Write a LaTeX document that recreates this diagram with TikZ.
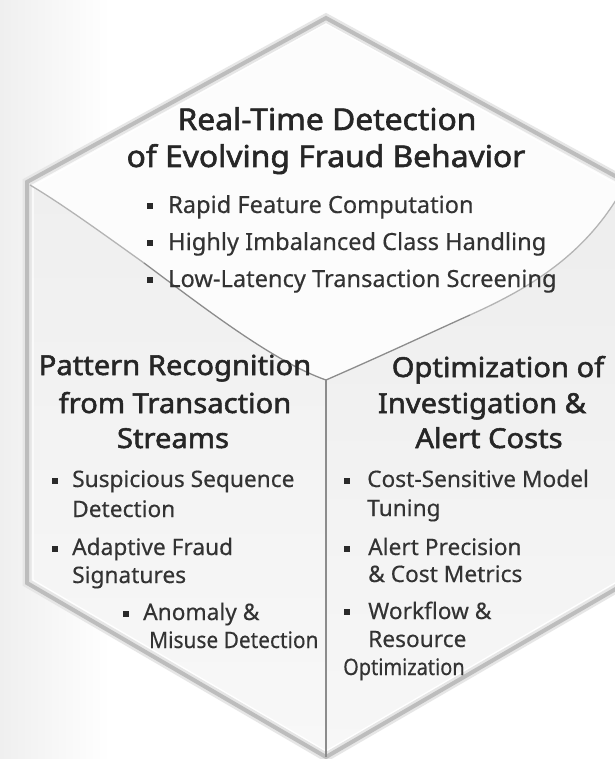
\documentclass[tikz,border=0pt]{standalone}
\usepackage{fontspec}
\usepackage{graphicx}
\setmainfont{Noto Sans}[FakeBold=0.35]
\newfontfamily\headfont{Noto Sans}[FakeBold=1.9, FakeStretch=1.06]
\definecolor{headc}{HTML}{262626}
\definecolor{txtc}{HTML}{333333}
\definecolor{bulc}{HTML}{2A2A2A}
\definecolor{edgec}{HTML}{BDBDBD}
\definecolor{shadowc}{HTML}{E6E6E6}
\definecolor{innerc}{HTML}{8C8C8C}
\definecolor{innerl}{HTML}{B4B4B4}
\definecolor{topface}{HTML}{FCFCFC}
\definecolor{lefttop}{HTML}{EFEFEF}
\definecolor{leftbot}{HTML}{F8F8F8}
\definecolor{righttop}{HTML}{EDEDED}
\definecolor{rightbot}{HTML}{F7F7F7}
\definecolor{bgl}{HTML}{EFEFEF}
\begin{document}
\begin{tikzpicture}[x=1pt,y=-1pt,
  titletext/.style={font=\headfont\fontsize{30}{34}\selectfont, text=headc, anchor=base, inner sep=0pt},
  facehead/.style={font=\headfont\fontsize{27.5}{32}\selectfont, text=headc, anchor=base, inner sep=0pt},
  topitem/.style={font=\bfseries\fontsize{23.6}{29}\selectfont, text=txtc, anchor=base west, inner sep=0pt},
  faceitem/.style={font=\bfseries\fontsize{22.7}{28}\selectfont, text=txtc, anchor=base west, inner sep=0pt},
  bul/.style={fill=bulc, draw=none, minimum size=6.5pt, inner sep=0pt, rectangle}
]
\useasboundingbox (0,0) rectangle (614,759);
\fill[white] (0,0) rectangle (614,759);
\shade[left color=bgl, right color=white] (0,0) rectangle (110,759);

% hexagon vertices
\coordinate (T) at (326,18);
\coordinate (UR) at (626,182);
\coordinate (LR) at (626,583);
\coordinate (B) at (326,757);
\coordinate (LL) at (27,583);
\coordinate (UL) at (27,182);
\coordinate (C) at (326,380);
\coordinate (Li) at (30,185);
\coordinate (Lm) at (144,263);
\coordinate (Rm) at (470,315);
\coordinate (Ri) at (622,190);

% faces
\fill[topface] (T) -- (UR) -- (Ri) .. controls (585,255) and (530,288) .. (Rm)
  .. controls (430,333) and (390,352) .. (C)
  .. controls (274.4,362) and (207,310) .. (Lm)
  .. controls (102,233) and (62,204) .. (Li) -- (UL) -- cycle;
\shade[top color=lefttop, bottom color=leftbot] (UL) -- (Li)
  .. controls (62,204) and (102,233) .. (Lm)
  .. controls (207,310) and (274.4,362) .. (C)
  -- (B) -- (LL) -- cycle;
\shade[top color=righttop, bottom color=rightbot] (C)
  .. controls (390,352) and (430,333) .. (Rm)
  .. controls (530,288) and (585,255) .. (Ri)
  -- (UR) -- (LR) -- (B) -- cycle;

% outline
\draw[shadowc, line width=9pt, line join=miter] (T) -- (UR) -- (LR) -- (B) -- (LL) -- (UL) -- cycle;
\draw[edgec, line width=4pt, line join=miter] (T) -- (UR) -- (LR) -- (B) -- (LL) -- (UL) -- cycle;
\draw[white, line width=1.2pt] (326,24) -- (620,186) -- (620,580) -- (326,751) -- (33,580) -- (33,186) -- cycle;

% inner edges
\draw[innerl, line width=1.3pt] (Li) .. controls (62,204) and (102,233) .. (Lm);
\draw[innerc, line width=1.3pt] (Lm) .. controls (207,310) and (274.4,362) .. (C);
\draw[innerc, line width=1.3pt] (C) .. controls (390,352) and (430,333) .. (Rm);
\draw[innerl, line width=1.3pt] (Rm) .. controls (530,288) and (585,255) .. (Ri);
\draw[innerc, line width=1.5pt] (C) -- (B);

% top face text
\node[titletext] (t1) at (327,130) {Real-Time Detection};
\node[titletext] (t2) at (326,167) {of Evolving Fraud Behavior};
\node[bul] (tb1) at (150,206) {};
\node[topitem] (ti1) at (168,213) {Rapid Feature Computation};
\node[bul] (tb2) at (150,243) {};
\node[topitem] (ti2) at (168,250) {Highly Imbalanced Class Handling};
\node[bul] (tb3) at (150,280) {};
\node[topitem] (ti3) at (168,287) {Low-Latency Transaction Screening};

% left face text
\node[facehead] (l1) at (175,375) {Pattern Recognition};
\node[facehead] (l2) at (175,413) {from Transaction};
\node[facehead] (l3) at (173,448) {Streams};
\node[bul] (lb1) at (55,481) {};
\node[faceitem] (li1) at (72,487) {Suspicious Sequence};
\node[faceitem] (li1b) at (72,517) {Detection};
\node[bul] (lb2) at (55,549) {};
\node[faceitem] (li2) at (72,555) {Adaptive Fraud};
\node[faceitem] (li2b) at (72,583) {Signatures};
\node[bul] (lb3) at (126,614) {};
\node[faceitem] (li3) at (143,620) {Anomaly \&};
\node[faceitem] (li3b) at (149,648) {\scalebox{0.92}[1]{Misuse Detection}};

% right face text
\node[facehead] (r1) at (498,377) {Optimization of};
\node[facehead] (r2) at (482,413) {Investigation \&};
\node[facehead] (r3) at (489,448) {Alert Costs};
\node[bul] (rb1) at (347,481) {};
\node[faceitem] (ri1) at (367,487) {Cost-Sensitive Model};
\node[faceitem] (ri1b) at (367,516) {Tuning};
\node[bul] (rb2) at (347,549) {};
\node[faceitem] (ri2) at (368,555) {Alert Precision};
\node[faceitem] (ri2b) at (368,582) {\& Cost Metrics};
\node[bul] (rb3) at (347,612) {};
\node[faceitem] (ri3) at (368,619) {Workflow \&};
\node[faceitem] (ri3b) at (368,647) {Resource};
\node[faceitem] (ri3c) at (343,675) {\scalebox{0.88}[1]{Optimization}};
\end{tikzpicture}
\end{document}
